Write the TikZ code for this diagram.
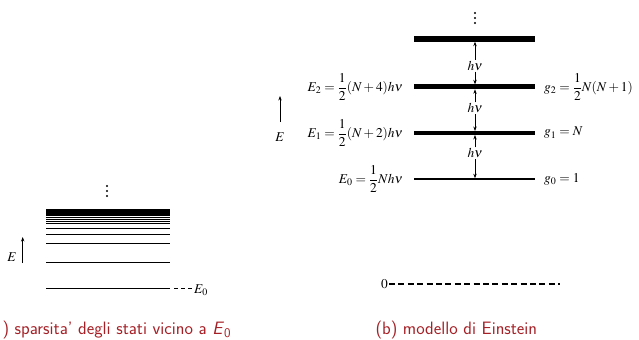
\documentclass[tikz,border=0pt]{standalone}
\usepackage{amsmath}
\usepackage{mathptmx}
\usetikzlibrary{arrows.meta}
\definecolor{capred}{RGB}{165,32,38}
\begin{document}
\begin{tikzpicture}[x=1bp,y=-1bp,line cap=butt,
  arr/.style={-{Stealth[length=4.5bp,width=3.4bp]},line width=0.7bp},
  lbl/.style={font=\fontsize{13.5}{16}\selectfont,inner sep=1bp},
  captext/.style={anchor=west,text=capred,font=\sffamily\fontsize{18}{21}\selectfont}]
  \useasboundingbox (0,0) rectangle (639,339);
  % (a) levels near E_0
  \foreach \y in {186,191,196}
    \fill (107,\y) circle[radius=1.1bp];
  \fill (46,209) rectangle (170,215.7);
  \foreach \y in {217.4,219.3,221.1,223,228.3,234.7,243.3,262.7,288}
    \draw[line width=0.9bp] (46,\y) -- (170,\y);
  \draw[line width=0.9bp,dash pattern=on 4bp off 3bp] (174,288) -- (192,288);
  \node[lbl,anchor=west] (Ezero) at (193,290) {$E_0$};
  \coordinate (Ealo) at (22.7,263);
  \coordinate (Eahi) at (22.7,237);
  \draw[arr] (Ealo) -- (Eahi);
  \node[lbl] (Ea) at (12,257) {$E$};
  \node[captext] (capa) at (-1,330) {) sparsita' degli stati vicino a \textit{E}\textsubscript{0}};
  % (b) Einstein model
  \foreach \y in {13,18,23}
    \fill (475,\y) circle[radius=1.1bp];
  \coordinate (T) at (475,41.7);
  \coordinate (Btwo) at (475,84.3);
  \coordinate (Ttwo) at (475,89.3);
  \coordinate (Bone) at (475,131);
  \coordinate (Tone) at (475,135);
  \coordinate (Bzero) at (475,178.2);
  \fill (414,35.7) rectangle (535,41.7);
  \fill (414,84.3) rectangle (535,89.3);
  \fill (414,131) rectangle (535,135);
  \draw[line width=1.6bp] (414,179) -- (535,179);
  \node[lbl] (hvtwo) at (475,65.7) {$h\nu$};
  \node[lbl] (hvone) at (475,108.3) {$h\nu$};
  \node[lbl] (hvzero) at (475,153.3) {$h\nu$};
  \draw[arr] (hvtwo.north) -- (T);
  \draw[arr] (hvtwo.south) -- (Btwo);
  \draw[arr] (hvone.north) -- (Ttwo);
  \draw[arr] (hvone.south) -- (Bone);
  \draw[arr] (hvzero.north) -- (Tone);
  \draw[arr] (hvzero.south) -- (Bzero);
  \node[lbl,anchor=east] (Etwo) at (404,87) {$E_2=\dfrac{1}{2}(N+4)h\nu$};
  \node[lbl,anchor=east] (Eone) at (404,133) {$E_1=\dfrac{1}{2}(N+2)h\nu$};
  \node[lbl,anchor=east] (Ezerob) at (404,179) {$E_0=\dfrac{1}{2}Nh\nu$};
  \node[lbl,anchor=west] (gtwo) at (543,87) {$g_2=\dfrac{1}{2}N(N+1)$};
  \node[lbl,anchor=west] (gone) at (543,133) {$g_1=N$};
  \node[lbl,anchor=west] (gzero) at (543,179) {$g_0=1$};
  \coordinate (Eblo) at (280,122);
  \coordinate (Ebhi) at (280,96);
  \draw[arr] (Eblo) -- (Ebhi);
  \node[lbl] (Eb) at (280,137) {$E$};
  \node[lbl,anchor=east] (zero) at (389,284) {$0$};
  \draw[line width=1.8bp,dash pattern=on 6bp off 3.4bp] (zero.east) -- (560,284);
  \node[captext] (capb) at (372,330) {(b) modello di Einstein};
\end{tikzpicture}
\end{document}
